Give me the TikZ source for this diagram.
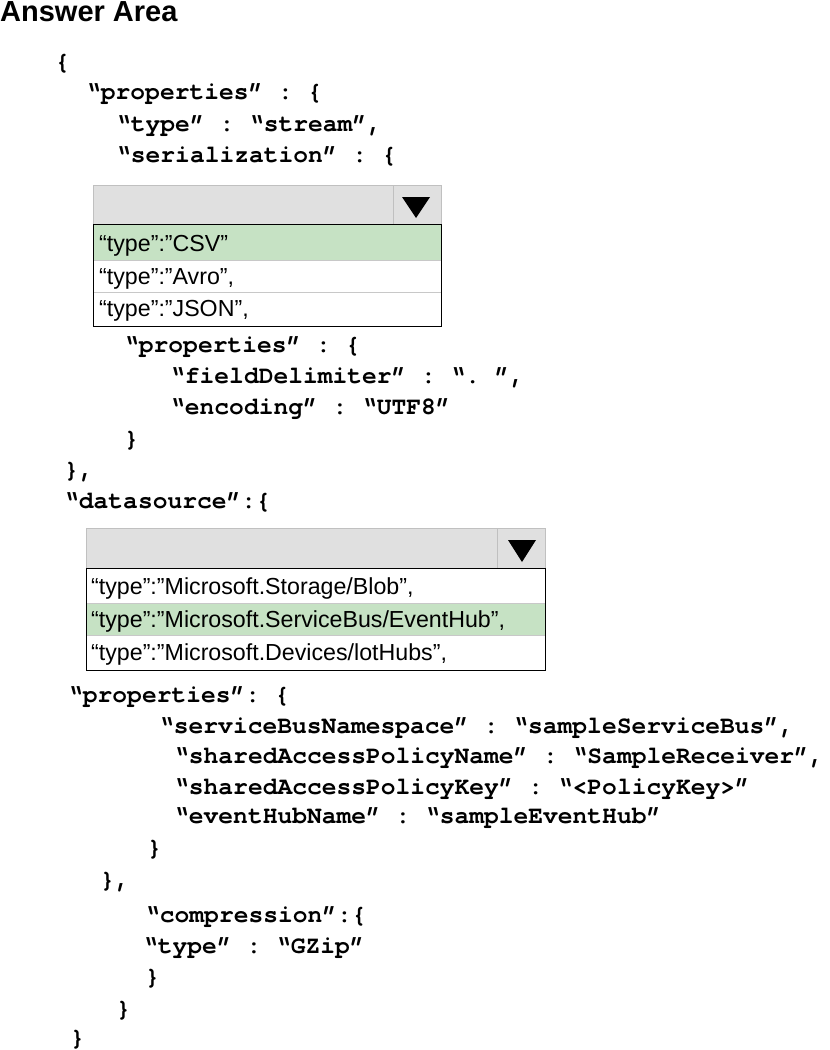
\documentclass[tikz,border=0pt]{standalone}
\usepackage{fontspec}
\setmainfont{Liberation Sans}
\setmonofont{TeX Gyre Cursor}[Ligatures=NoCommon]
\definecolor{pickgreen}{RGB}{198,226,196}
\definecolor{headgray}{RGB}{224,224,224}
\definecolor{headline}{RGB}{192,192,192}
\definecolor{rowline}{RGB}{200,200,200}

\begin{document}
\begin{tikzpicture}[x=1pt,y=-1pt,
  code/.style={anchor=base west,inner sep=0,font=\fontsize{24.6}{25}\selectfont\ttfamily\bfseries},
  opt/.style={anchor=base west,inner sep=0,font=\fontsize{23.2}{24}\selectfont},
  headbox/.style={fill=headgray,draw=headline},
  listbox/.style={draw=black,thick}]
\useasboundingbox (0,0) rectangle (830,1050);

\node [anchor=base west,inner sep=0,font=\fontsize{29}{29}\selectfont\bfseries] (title) at (0,21) {Answer Area};

% first part of the code
\node [code] (open) at (55,69) {\{};
\node [code] (props) at (86,99) {“properties” : \{};
\node [code] (type) at (116,131) {“type” : “stream”,};
\node [code] (serial) at (116,162) {“serialization” : \{};

% first drop-down
\fill [headbox] (93,185) rectangle (441,224);
\draw [headline] (393,185) -- (393,224);
\fill (402,197) -- (430,197) -- (416,218) -- cycle;
\fill [pickgreen] (93,224) rectangle (441,260);
\draw [rowline] (93,260) -- (441,260) (93,292) -- (441,292);
\draw [listbox] (93,224) rectangle (441,326);
\node [opt] (csv) at (99,251) {“type”:”CSV”};
\node [opt] (avro) at (99,284) {“type”:”Avro”,};
\node [opt] (json) at (99,316) {“type”:”JSON”,};

\node [code] (sprops) at (124,352) {“properties” : \{};
\node [code] (delim) at (170,383) {“fieldDelimiter” : “. ”,};
\node [code] (enc) at (170,414) {“encoding” : “UTF8”};
\node [code] (sclose) at (124,446) {\}};
\node [code] (pclose) at (64,477) {\},};
\node [code] (dsrc) at (64,508) {“datasource”:\{};

% second drop-down
\fill [headbox] (86,528) rectangle (545,568);
\draw [headline] (497,528) -- (497,568);
\fill (508,540) -- (536,540) -- (522,562) -- cycle;
\fill [pickgreen] (86,603) rectangle (545,635);
\draw [rowline] (86,603) -- (545,603) (86,635) -- (545,635);
\draw [listbox] (86,568) rectangle (545,670);
\node [opt] (blob) at (91,594) {“type”:”Microsoft.Storage/Blob”,};
\node [opt] (hub) at (91,627) {“type”:”Microsoft.ServiceBus/EventHub”,};
\node [opt] (iot) at (91,660) {“type”:”Microsoft.Devices/lotHubs”,};

\node [code] (dprops) at (68,702) {“properties”: \{};
\node [code] (ns) at (159,733) {“serviceBusNamespace” : “sampleServiceBus”,};
\node [code] (pname) at (174,763) {“sharedAccessPolicyName” : “SampleReceiver”,};
\node [code] (pkey) at (174,794) {“sharedAccessPolicyKey” : “<PolicyKey>”};
\node [code] (hname) at (174,823) {“eventHubName” : “sampleEventHub”};
\node [code] (dclose) at (147,855) {\}};
\node [code] (dsclose) at (100,887) {\},};
\node [code] (comp) at (145,922) {“compression”:\{};
\node [code] (gzip) at (143,953) {“type” : “GZip”};
\node [code] (cclose) at (145,984) {\}};
\node [code] (iclose) at (116,1016) {\}};
\node [code] (close) at (70,1045) {\}};
\end{tikzpicture}
\end{document}
